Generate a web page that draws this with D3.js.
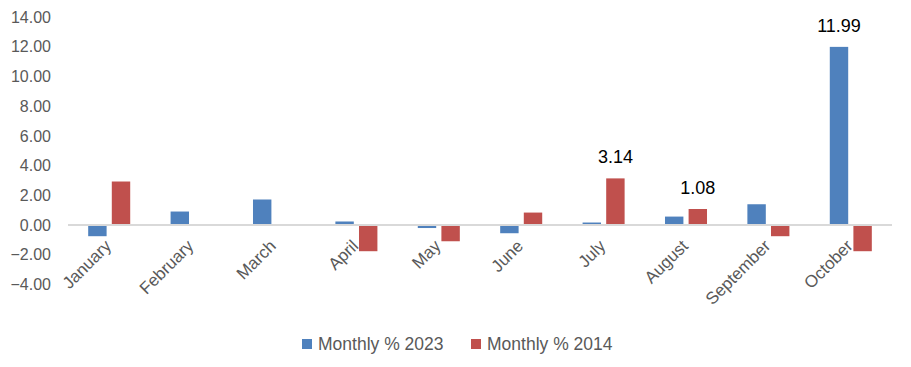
<!DOCTYPE html>
<html lang="en">
<head>
    <meta charset="UTF-8">
    <title>Monthly %</title>
    <script src="https://cdn.jsdelivr.net/npm/d3@7"></script>
    <style>
        html, body { margin: 0; background: #fff; }
        text { font-family: "Liberation Sans", Arial, sans-serif; }
    </style>
</head>
<body>
<svg id="chart"></svg>
<script>
    const months = ['January', 'February', 'March', 'April', 'May', 'June', 'July', 'August', 'September', 'October'];
    const series = ['Monthly % 2023', 'Monthly % 2014'];
    const values2023 = [-0.75, 0.91, 1.72, 0.24, -0.20, -0.55, 0.17, 0.57, 1.40, 11.99];
    const values2014 = [2.93, -0.04, -0.04, -1.76, -1.09, 0.84, 3.14, 1.08, -0.75, -1.76];
    const yTicks = [-4, -2, 0, 2, 4, 6, 8, 10, 12, 14];
    // which points carry a value label: [seriesIndex, monthIndex]
    const labelled = [[1, 6], [1, 7], [0, 9]];

    const colors = ['#4f81bd', '#c0504d'];
    const width = 911, height = 367;

    const svg = d3.select('#chart').attr('width', width).attr('height', height);

    const x0 = d3.scaleBand().domain(months).range([68, 892])
        .paddingInner(0.49).paddingOuter(0.245);
    const x1 = d3.scaleBand().domain(series).range([0, x0.bandwidth()]).paddingInner(0.22);
    const y = d3.scaleLinear().domain([-4, 14]).range([284.5, 17]);

    // y axis labels, no line
    const yAxis = d3.axisLeft(y).tickValues(yTicks).tickFormat(d3.format('.2f')).tickSize(0).tickPadding(0);
    const ya = svg.append('g').attr('transform', 'translate(51,0)').call(yAxis);
    ya.select('.domain').remove();
    ya.selectAll('text').attr('fill', '#595959').style('font-size', '16px');

    const rows = months.map((m, i) => ({ month: m, vals: [values2023[i], values2014[i]] }));

    const groups = svg.append('g').selectAll('g').data(rows).join('g')
        .attr('transform', d => `translate(${x0(d.month)},0)`);
    groups.selectAll('rect').data(d => d.vals.map((v, k) => ({ v, k })))
        .join('rect')
        .attr('x', d => x1(series[d.k]))
        .attr('width', x1.bandwidth())
        .attr('y', d => y(Math.max(0, d.v)))
        .attr('height', d => Math.abs(y(d.v) - y(0)))
        .attr('fill', d => colors[d.k]);

    // zero line
    svg.append('line')
        .attr('x1', 68).attr('x2', 892)
        .attr('y1', y(0)).attr('y2', y(0))
        .attr('stroke', '#d9d9d9').attr('stroke-width', 2);

    // category labels rotated
    svg.append('g').selectAll('text').data(months).join('text')
        .attr('transform', d => `translate(${x0(d) + x0.bandwidth() / 2 + 3},${y(0) + 22}) rotate(-45)`)
        .attr('text-anchor', 'end')
        .attr('fill', '#595959')
        .style('font-size', '17px')
        .text(d => d);

    // value labels
    svg.append('g').selectAll('text').data(labelled).join('text')
        .attr('x', d => x0(months[d[1]]) + x1(series[d[0]]) + x1.bandwidth() / 2)
        .attr('y', d => y(d[0] === 0 ? values2023[d[1]] : values2014[d[1]]) - 15)
        .attr('text-anchor', 'middle')
        .attr('fill', '#000')
        .style('font-size', '18px')
        .text(d => d3.format('.2f')(d[0] === 0 ? values2023[d[1]] : values2014[d[1]]));

    // legend
    const legX = [302, 471];
    const leg = svg.append('g').selectAll('g').data(series).join('g')
        .attr('transform', (d, i) => `translate(${legX[i]},339)`);
    leg.append('rect').attr('width', 10).attr('height', 10).attr('fill', (d, i) => colors[i]);
    leg.append('text').attr('x', 16).attr('y', 11)
        .attr('fill', '#595959').style('font-size', '17.5px')
        .text(d => d);
</script>
</body>
</html>
